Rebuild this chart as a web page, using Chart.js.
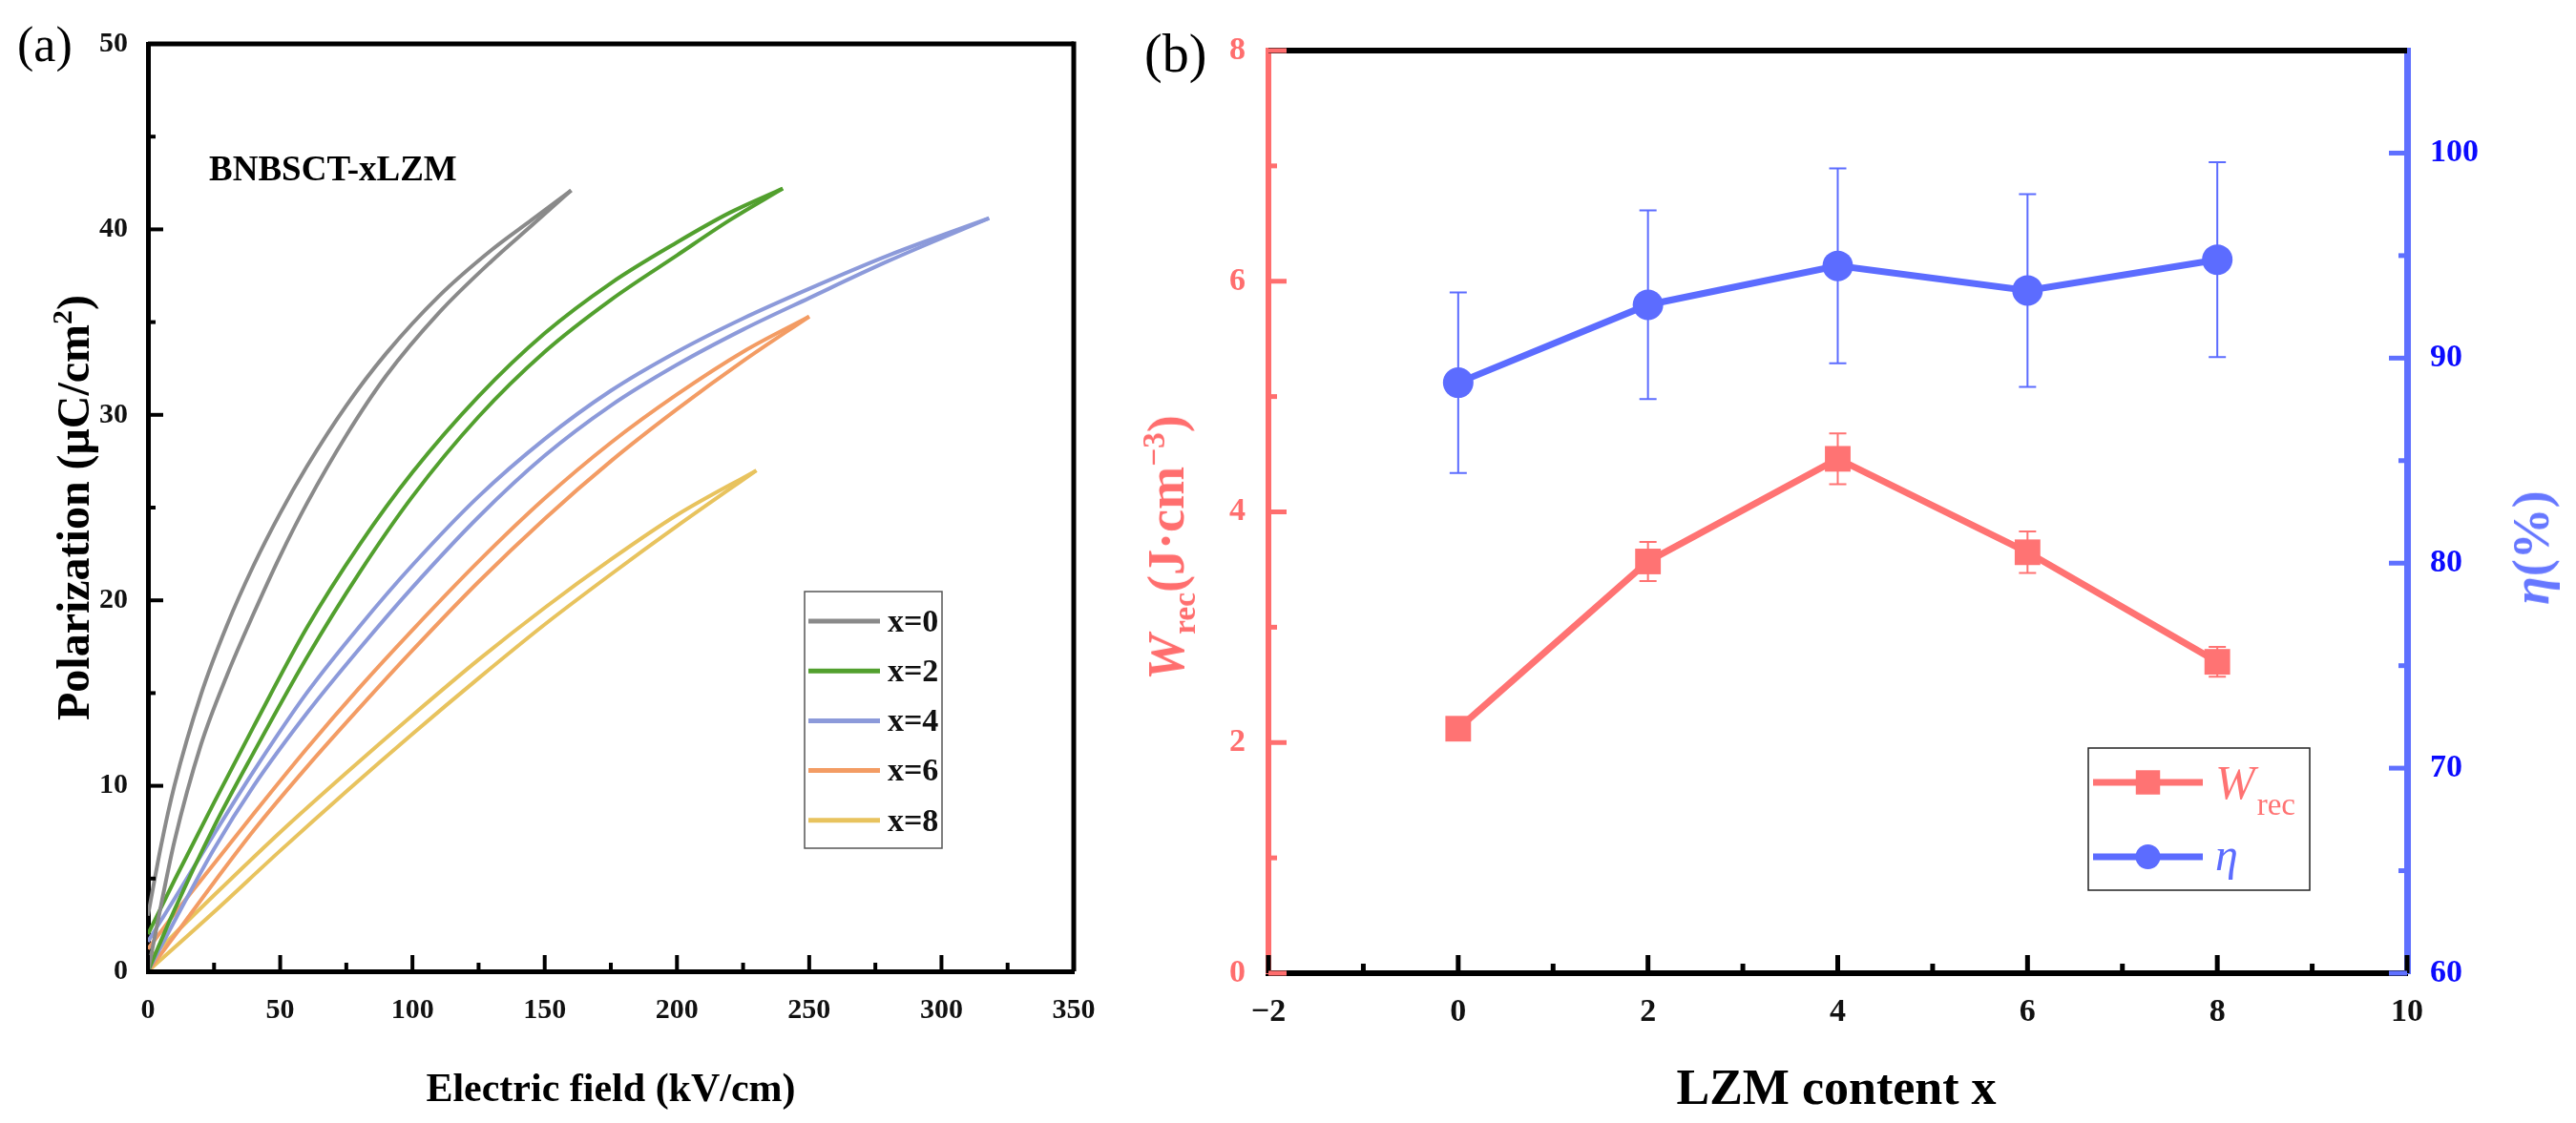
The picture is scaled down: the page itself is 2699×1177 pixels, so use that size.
<!DOCTYPE html>
<html>
<head>
<meta charset="utf-8">
<script src="https://cdn.jsdelivr.net/npm/chart.js@4.4.1/dist/chart.umd.min.js"></script>
<style>
  body { margin: 0; background: #fff; width: 2699px; height: 1177px; position: relative; overflow: hidden;
         font-family: "Liberation Serif", "Times New Roman", serif; }
  .panel { position: absolute; top: 0; }
  .txt { position: absolute; white-space: nowrap; line-height: 1; }
  .b { font-weight: bold; }
  .mid { transform: translate(-50%, -50%); }
  .rot { transform: translate(-50%, -50%) rotate(-90deg); }
  .sup { font-size: 0.62em; position: relative; top: -0.6em; }
  .sub { font-size: 0.62em; position: relative; top: 0.35em; }
</style>
</head>
<body>
<div class="panel" style="left:0;width:1200px;height:1177px"><canvas id="peChart" width="1200" height="1177"></canvas></div>
<div class="panel" style="left:1200px;width:1499px;height:1177px"><canvas id="energyChart" width="1499" height="1177"></canvas></div>

<div class="txt" style="left:18px;top:47px;transform:translateY(-50%);font-size:52px">(a)</div>
<div class="txt b" style="left:219px;top:176px;transform:translateY(-50%);font-size:37px">BNBSCT-xLZM</div>
<div class="txt b mid" style="left:640px;top:1140px;font-size:42px">Electric field (kV/cm)</div>
<div class="txt b rot" style="left:77px;top:532px;font-size:48px">Polarization (μC/cm<span class="sup">2</span>)</div>

<div class="txt" style="left:1199px;top:56px;transform:translateY(-50%);font-size:56px">(b)</div>
<div class="txt b mid" style="left:1924px;top:1140px;font-size:52px">LZM content x</div>
<div class="txt b rot" style="left:1222px;top:574px;font-size:54px;color:#ff6e6e"><i>W</i><span class="sub">rec</span>(J·cm<span class="sup">−3</span>)</div>
<div class="txt b rot" style="left:2652px;top:574px;font-size:54px;color:#6677ff"><i>η</i>(%)</div>

<script>
// P-E loops: field (kV/cm) and polarization (μC/cm²) of the upper (discharge) and lower (charge) branch
const compositions = ['x=0', 'x=2', 'x=4', 'x=6', 'x=8'];

const fieldX0 = [0, 5, 10, 20, 30, 40, 50, 60, 75, 90, 110, 130, 145, 160];
const upperX0 = [3.0, 6.8, 10.0, 14.9, 18.7, 21.9, 24.7, 27.2, 30.5, 33.3, 36.4, 38.9, 40.5, 42.1];
const lowerX0 = [0, 3.6, 7.0, 12.2, 16.0, 19.3, 22.4, 25.2, 28.9, 32.1, 35.5, 38.3, 40.2, 42.1];

const fieldX2 = [0, 10, 25, 40, 60, 80, 100, 125, 150, 175, 200, 220, 240];
const upperX2 = [2.0, 4.9, 9.1, 13.2, 18.5, 23.0, 26.9, 31.0, 34.4, 37.1, 39.3, 40.9, 42.2];
const lowerX2 = [0, 3.3, 7.8, 11.8, 16.9, 21.5, 25.6, 29.9, 33.4, 36.2, 38.6, 40.5, 42.2];

const fieldX4 = [0, 10, 25, 40, 60, 80, 100, 125, 150, 175, 200, 225, 250, 280, 318];
const upperX4 = [1.6, 3.9, 7.4, 10.8, 15.0, 18.6, 21.9, 25.6, 28.7, 31.3, 33.4, 35.2, 36.8, 38.6, 40.6];
const lowerX4 = [0, 2.7, 6.6, 10.0, 13.9, 17.4, 20.7, 24.5, 27.8, 30.5, 32.7, 34.6, 36.3, 38.3, 40.6];

const fieldX6 = [0, 10, 25, 40, 60, 80, 100, 125, 150, 175, 200, 225, 250];
const upperX6 = [1.2, 3.1, 5.8, 8.5, 12.0, 15.3, 18.4, 22.1, 25.5, 28.5, 31.1, 33.4, 35.3];
const lowerX6 = [0, 1.9, 4.8, 7.6, 11.0, 14.2, 17.3, 21.0, 24.4, 27.5, 30.3, 32.9, 35.3];

const fieldX8 = [0, 25, 50, 75, 100, 125, 150, 175, 200, 230];
const upperX8 = [0.6, 4.1, 7.5, 10.7, 13.8, 16.8, 19.6, 22.2, 24.6, 27.0];
const lowerX8 = [0, 3.2, 6.5, 9.7, 12.8, 15.8, 18.7, 21.4, 24.0, 27.0];

const loopColors = ['#8a8a8a', '#52a02e', '#8c9ada', '#f39c64', '#e8c35e'];

// energy storage vs LZM content
const contentX = [0, 2, 4, 6, 8];
const wrecValues = [2.12, 3.57, 4.46, 3.65, 2.70];
const wrecErrors = [0.05, 0.17, 0.22, 0.18, 0.13];
const etaValues = [88.8, 92.6, 94.5, 93.3, 94.8];
const etaErrors = [4.4, 4.6, 4.75, 4.7, 4.75];

const red = '#ff6e6e';
const blue = '#5c6cff';

Chart.defaults.font.family = '"Liberation Serif", "Times New Roman", serif';

// inward tick marks (major on ticks, minor half-way) and extra frame lines
const innerTicks = {
  id: 'innerTicks',
  afterDraw(chart, args, opts) {
    const ctx = chart.ctx;
    const area = chart.chartArea;
    ctx.save();
    ctx.lineCap = 'butt';
    (opts.frame || []).forEach(f => {
      ctx.strokeStyle = f.color;
      ctx.lineWidth = f.width;
      ctx.beginPath();
      if (f.side === 'top') {
        ctx.moveTo(area.left, area.top);
        ctx.lineTo(area.right, area.top);
      } else {
        ctx.moveTo(area.right, area.top - f.width / 2);
        ctx.lineTo(area.right, area.bottom);
      }
      ctx.stroke();
    });
    (opts.axes || []).forEach(a => {
      const scale = chart.scales[a.id];
      const vals = scale.ticks.map(t => t.value);
      const step = vals[1] - vals[0];
      ctx.strokeStyle = a.color;
      ctx.lineWidth = a.width;
      const mark = (v, len) => {
        const p = scale.getPixelForValue(v);
        ctx.beginPath();
        if (a.side === 'bottom') {
          ctx.moveTo(p, area.bottom);
          ctx.lineTo(p, area.bottom - len);
        } else if (a.side === 'left') {
          ctx.moveTo(area.left, p);
          ctx.lineTo(area.left + len, p);
        } else {
          ctx.moveTo(area.right, p);
          ctx.lineTo(area.right - len, p);
        }
        ctx.stroke();
      };
      vals.forEach(v => {
        mark(v, a.major);
        if (v + step / 2 < scale.max) mark(v + step / 2, a.minor);
      });
    });
    ctx.restore();
  }
};

// vertical error bars with caps, taken from dataset.errors
const errorBars = {
  id: 'errorBars',
  beforeDatasetsDraw(chart, args, opts) {
    const ctx = chart.ctx;
    chart.data.datasets.forEach(ds => {
      if (!ds.errors) return;
      const xs = chart.scales.x;
      const ys = chart.scales[ds.yAxisID];
      ctx.save();
      ctx.strokeStyle = ds.borderColor;
      ctx.lineWidth = opts.width;
      ds.data.forEach((pt, k) => {
        const px = xs.getPixelForValue(pt.x);
        const top = ys.getPixelForValue(pt.y + ds.errors[k]);
        const bot = ys.getPixelForValue(pt.y - ds.errors[k]);
        ctx.beginPath();
        ctx.moveTo(px, top); ctx.lineTo(px, bot);
        ctx.moveTo(px - opts.cap, top); ctx.lineTo(px + opts.cap, top);
        ctx.moveTo(px - opts.cap, bot); ctx.lineTo(px + opts.cap, bot);
        ctx.stroke();
      });
      ctx.restore();
    });
  }
};

// legend box placed inside the plot
const boxLegend = {
  id: 'boxLegend',
  afterDraw(chart, args, o) {
    const ctx = chart.ctx;
    ctx.save();
    ctx.strokeStyle = o.borderColor;
    ctx.lineWidth = o.borderWidth;
    ctx.strokeRect(o.left, o.top, o.width, o.height);
    const items = chart.data.datasets.filter(d => d.inLegend !== false);
    items.forEach((ds, i) => {
      const y = o.firstRow + i * o.rowGap;
      ctx.strokeStyle = ds.borderColor;
      ctx.lineWidth = o.lineWidth;
      ctx.beginPath();
      ctx.moveTo(o.lineStart, y);
      ctx.lineTo(o.lineEnd, y);
      ctx.stroke();
      if (o.markerRadius) {
        ctx.fillStyle = ds.borderColor;
        Chart.helpers.drawPoint(ctx, { pointStyle: ds.pointStyle, radius: o.markerRadius[i], rotation: 0, borderWidth: 0 },
          (o.lineStart + o.lineEnd) / 2, y);
      }
      ctx.fillStyle = o.textColor || ds.borderColor;
      if (ds.legendParts) {
        ctx.textBaseline = 'alphabetic';
        let x = o.textX;
        ds.legendParts.forEach(part => {
          ctx.font = part.font;
          ctx.fillText(part.text, x, y + part.dy);
          x += ctx.measureText(part.text).width + (part.gap || 0);
        });
      } else {
        ctx.font = o.font;
        ctx.textBaseline = 'middle';
        ctx.fillText(ds.label, o.textX, y + 2);
      }
    });
    ctx.restore();
  }
};

// ---------- panel (a) ----------
const loops = [
  [fieldX0, lowerX0, upperX0],
  [fieldX2, lowerX2, upperX2],
  [fieldX4, lowerX4, upperX4],
  [fieldX6, lowerX6, upperX6],
  [fieldX8, lowerX8, upperX8]
];
const loopDatasets = [];
loops.forEach((loop, i) => {
  const field = loop[0];
  [loop[1], loop[2]].forEach((branch, j) => {
    loopDatasets.push({
      label: compositions[i],
      inLegend: j === 0,
      data: field.map((e, k) => ({ x: e, y: branch[k] })),
      showLine: true,
      borderColor: loopColors[i],
      borderWidth: 4,
      pointRadius: 0,
      cubicInterpolationMode: 'monotone',
      fill: false
    });
  });
});

const tickFontA = { size: 30, weight: 'bold' };

new Chart(document.getElementById('peChart'), {
  type: 'scatter',
  data: { datasets: loopDatasets },
  options: {
    responsive: false,
    animation: false,
    events: [],
    layout: { padding: { left: 0, top: 46, right: 75, bottom: 0 } },
    plugins: {
      legend: { display: false },
      tooltip: { enabled: false },
      innerTicks: {
        axes: [
          { id: 'x', side: 'bottom', color: '#000', width: 4, major: 17, minor: 9 },
          { id: 'y', side: 'left', color: '#000', width: 4, major: 16, minor: 8 }
        ],
        frame: [{ side: 'top', color: '#000', width: 5 }, { side: 'right', color: '#000', width: 5 }]
      },
      boxLegend: {
        left: 843, top: 620, width: 144, height: 269, borderColor: '#555', borderWidth: 1.5,
        firstRow: 651, rowGap: 52.2, lineStart: 847, lineEnd: 922, lineWidth: 5,
        textX: 930, font: 'bold 34px "Liberation Serif"', textColor: '#111'
      }
    },
    scales: {
      x: {
        type: 'linear', min: 0, max: 350,
        ticks: { stepSize: 50, color: '#111', font: tickFontA, padding: 23, maxRotation: 0, autoSkip: false },
        grid: { display: false, drawTicks: false },
        border: { color: '#000', width: 5 },
        afterFit: s => { s.height = 159; }
      },
      y: {
        type: 'linear', min: 0, max: 50,
        ticks: { stepSize: 10, color: '#111', font: tickFontA, padding: 21, autoSkip: false },
        grid: { display: false, drawTicks: false },
        border: { color: '#000', width: 5 },
        afterFit: s => { s.width = 155; }
      }
    }
  },
  plugins: [innerTicks, boxLegend]
});

// ---------- panel (b) ----------
const tickFontB = { size: 34, weight: 'bold' };

new Chart(document.getElementById('energyChart'), {
  type: 'line',
  data: {
    datasets: [
      {
        label: 'Wrec',
        legendParts: [
          { text: 'W', font: 'italic 50px "Liberation Serif"', dy: 17, gap: 2 },
          { text: 'rec', font: '33px "Liberation Serif"', dy: 34 }
        ],
        data: contentX.map((x, i) => ({ x: x, y: wrecValues[i] })),
        errors: wrecErrors,
        yAxisID: 'y',
        borderColor: '#ff7373',
        backgroundColor: '#ff7373',
        pointBackgroundColor: '#ff7373',
        borderWidth: 7,
        pointStyle: 'rect',
        pointRadius: 19,
        pointBorderWidth: 0,
        tension: 0
      },
      {
        label: 'η',
        legendParts: [{ text: 'η', font: 'italic 48px "Liberation Serif"', dy: 14 }],
        data: contentX.map((x, i) => ({ x: x, y: etaValues[i] })),
        errors: etaErrors,
        yAxisID: 'y2',
        borderColor: blue,
        backgroundColor: blue,
        pointBackgroundColor: blue,
        borderWidth: 7,
        pointStyle: 'circle',
        pointRadius: 16,
        pointBorderWidth: 0,
        tension: 0
      }
    ]
  },
  options: {
    responsive: false,
    animation: false,
    events: [],
    layout: { padding: { left: 0, top: 53, right: 0, bottom: 0 } },
    plugins: {
      legend: { display: false },
      tooltip: { enabled: false },
      errorBars: { width: 2, cap: 9 },
      innerTicks: {
        axes: [
          { id: 'x', side: 'bottom', color: '#000', width: 5, major: 19, minor: 10 },
          { id: 'y', side: 'left', color: red, width: 5, major: 19, minor: 9 },
          { id: 'y2', side: 'right', color: '#5f70ff', width: 5, major: 19, minor: 9 }
        ],
        frame: [{ side: 'top', color: '#000', width: 6 }]
      },
      boxLegend: {
        left: 988, top: 784, width: 232, height: 149, borderColor: '#222', borderWidth: 1.5,
        firstRow: 820, rowGap: 78, lineStart: 993, lineEnd: 1108, lineWidth: 7,
        markerRadius: [18, 13], textX: 1121
      }
    },
    scales: {
      x: {
        type: 'linear', min: -2, max: 10,
        ticks: {
          stepSize: 2, color: '#111', font: tickFontB, padding: 21, maxRotation: 0, autoSkip: false,
          callback: v => String(v).replace('-', '\u2212')
        },
        grid: { display: false, drawTicks: false },
        border: { color: '#000', width: 6 },
        afterFit: s => { s.height = 157; }
      },
      y: {
        type: 'linear', position: 'left', min: 0, max: 8,
        ticks: { stepSize: 2, color: red, font: tickFontB, padding: 24, autoSkip: false },
        grid: { display: false, drawTicks: false },
        border: { color: red, width: 6 },
        afterFit: s => { s.width = 129; }
      },
      y2: {
        type: 'linear', position: 'right', min: 60, max: 105,
        ticks: { stepSize: 10, includeBounds: false, color: '#0b0bff', font: tickFontB, padding: 24, autoSkip: false },
        grid: { display: false, drawTicks: false },
        border: { color: '#5f70ff', width: 7 },
        afterFit: s => { s.width = 177; }
      }
    }
  },
  plugins: [errorBars, innerTicks, boxLegend]
});
</script>
</body>
</html>
